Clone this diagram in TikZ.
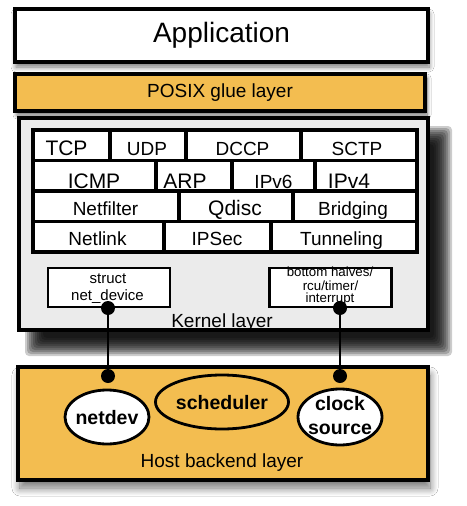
\documentclass[tikz,border=0pt]{standalone}
\usepackage{fontspec}
\setmainfont{Liberation Sans}
\usetikzlibrary{shadows.blur,shapes.geometric}
\definecolor{glue}{RGB}{243,189,80}
\definecolor{kern}{RGB}{235,235,235}
\begin{document}
\begin{tikzpicture}[x=1pt,y=-1pt,
  layerbox/.style={draw=black, line width=3.2pt, rectangle, inner sep=0pt},
  cellbox/.style={draw=black, line width=3.2pt, fill=white},
  txt/.style={anchor=base, inner sep=0pt, font=\fontsize{19}{21}\selectfont},
  bigtxt/.style={anchor=base, inner sep=0pt, font=\fontsize{21}{23}\selectfont},
  smalltxt/.style={anchor=base, inner sep=0pt, font=\fontsize{15}{16}\selectfont},
  tinytxt/.style={anchor=base, inner sep=0pt, font=\fontsize{13.3}{14}\selectfont},
  boldtxt/.style={anchor=base, inner sep=0pt, font=\fontsize{19.5}{21}\selectfont\bfseries},
  smallbox/.style={draw=black, line width=2.7pt, fill=white, rectangle, inner sep=0pt, minimum width=122pt, minimum height=39pt},
  oval/.style={ellipse, draw=black, line width=2.8pt, inner sep=0pt},
  dot/.style={circle, fill=black, inner sep=0pt, minimum size=14pt},
  wire/.style={draw=black, line width=2.6pt},
  shadowlayer/.style={fill=black, fill opacity=0.2}
]
\useasboundingbox (0,0) rectangle (466,506);
\fill[white] (0,0) rectangle (466,506);

% Application
\node[layerbox, fill=white, minimum width=413pt, minimum height=53pt,
  blur shadow={shadow xshift=1pt, shadow yshift=-5pt, shadow blur radius=5pt, shadow blur steps=8, shadow opacity=55},
  font=\fontsize{28}{30}\selectfont] (app) at (221.5,35.5) {Application};

% POSIX glue layer
\node[layerbox, fill=glue, minimum width=410pt, minimum height=37pt,
  blur shadow={shadow xshift=2pt, shadow yshift=-4pt, shadow blur radius=4pt, shadow blur steps=8, shadow opacity=60},
  font=\fontsize{19}{21}\selectfont] (posix) at (220,92.5) {POSIX glue layer};

% Kernel layer heavy shadow
\foreach \i in {-9,-7,...,9} {
  \fill[shadowlayer, rounded corners=4pt] (34+\i,135+\i) rectangle (443-\i,347-\i);
}
\node[layerbox, fill=kern, minimum width=409pt, minimum height=212pt] (kernel) at (223.5,224) {};

% Host backend layer
\node[layerbox, fill=glue, minimum width=410pt, minimum height=113pt,
  blur shadow={shadow xshift=2pt, shadow yshift=-8pt, shadow blur radius=8pt, shadow blur steps=10, shadow opacity=55}] (host) at (223,423.5) {};

% protocol grid
\draw[cellbox] (33,130) rectangle (110,160.5);
\draw[cellbox] (110,130) rectangle (186,160.5);
\draw[cellbox] (186,130) rectangle (301,160.5);
\draw[cellbox] (301,130) rectangle (417,160.5);
\draw[cellbox] (33,160.5) rectangle (156,191);
\draw[cellbox] (156,160.5) rectangle (232,191);
\draw[cellbox] (232,160.5) rectangle (315,191);
\draw[cellbox] (315,160.5) rectangle (417,191);
\draw[cellbox] (33,191) rectangle (179,221.5);
\draw[cellbox] (179,191) rectangle (293,221.5);
\draw[cellbox] (293,191) rectangle (417,221.5);
\draw[cellbox] (33,221.5) rectangle (164,252);
\draw[cellbox] (164,221.5) rectangle (271,252);
\draw[cellbox] (271,221.5) rectangle (417,252);

\node[bigtxt] (tcp) at (66.5,155) {TCP};
\node[txt] (udp) at (147,155) {UDP};
\node[txt] (dccp) at (242.5,155) {DCCP};
\node[txt] (sctp) at (357,155) {SCTP};
\node[bigtxt] (icmp) at (94,188) {ICMP};
\node[bigtxt] (arp) at (185,188) {ARP};
\node[txt] (ipv6) at (273.5,188) {IPv6};
\node[bigtxt] (ipv4) at (349,188) {IPv4};
\node[txt] (netfilter) at (105.5,215) {Netfilter};
\node[bigtxt] (qdisc) at (235,215) {Qdisc};
\node[txt] (bridging) at (353,215) {Bridging};
\node[txt] (netlink) at (97.5,245) {Netlink};
\node[txt] (ipsec) at (217,245) {IPSec};
\node[txt] (tunneling) at (341.5,245) {Tunneling};

% kernel inner boxes
\node[smallbox] (netdevstruct) at (109,287.5) {};
\node[smalltxt] (structa) at (108,283) {struct};
\node[smalltxt] (structb) at (107.5,300) {net\_device};

\node[smallbox] (bh) at (330.5,287.5) {};
\begin{scope}
  \clip (bh.north west) rectangle (bh.south east);
  \node[tinytxt] (bha) at (330,276) {bottom halves/};
  \node[tinytxt] (bhb) at (330.5,290) {rcu/timer/};
  \node[tinytxt] (bhc) at (330,302.5) {interrupt};
\end{scope}

\node[txt] (kernlabel) at (222,327) {Kernel layer};

% host contents
\node[oval, fill=white, minimum width=84pt, minimum height=54pt] (netdev) at (107,417) {};
\node[boldtxt] (netdevtxt) at (107,424) {netdev};
\node[oval, fill=glue, minimum width=133pt, minimum height=54pt] (sched) at (222,402) {};
\node[boldtxt] (schedtxt) at (222,409) {scheduler};
\node[oval, fill=white, minimum width=84pt, minimum height=56pt] (clock) at (340,417) {};
\node[boldtxt] (clocka) at (340,410) {clock};
\node[boldtxt] (clockb) at (340,434) {source};

\node[txt] (hostlabel) at (222,467) {Host backend layer};

% connectors
\node[dot] (k1) at (108,308) {};
\node[dot] (k2) at (340,308) {};
\node[dot] (h1) at (108,376) {};
\node[dot] (h2) at (340,376) {};
\draw[wire] (k1) -- (h1);
\draw[wire] (k2) -- (h2);
\end{tikzpicture}
\end{document}
